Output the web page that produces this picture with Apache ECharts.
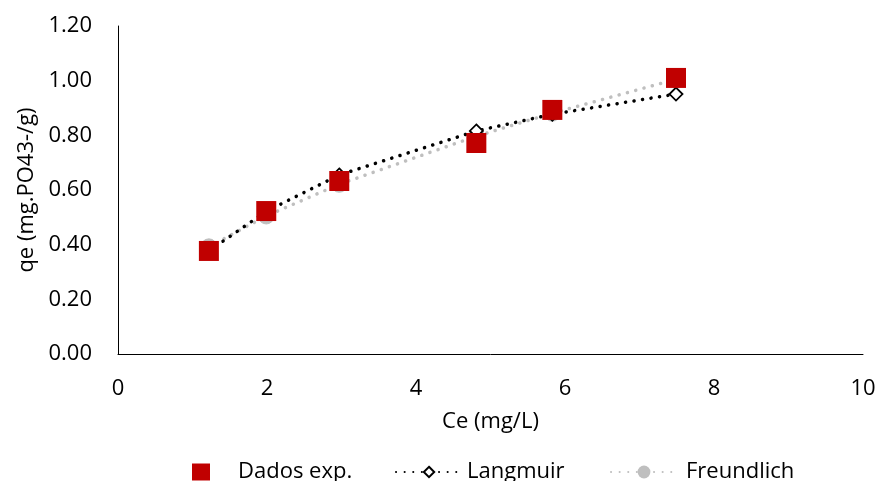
<!DOCTYPE html>
<html>
<head>
<meta charset="utf-8">
<script src="https://cdn.jsdelivr.net/npm/echarts@6/dist/echarts.min.js"></script>
<style>
  html, body { margin: 0; padding: 0; background: #fff; }
  #chart { width: 881px; height: 481px; }
</style>
</head>
<body>
<div id="chart"></div>
<script>
// Equilibrium concentration Ce (mg/L)
const ce = [1.22, 1.99, 2.97, 4.81, 5.83, 7.49];
// Experimental adsorption capacity qe
const qeExp = [0.377, 0.523, 0.633, 0.772, 0.893, 1.010];
// Langmuir model values
const qeLangmuir = [0.377, 0.522, 0.655, 0.816, 0.877, 0.951];
// Freundlich model values
const qeFreundlich = [0.392, 0.505, 0.621, 0.797, 0.881, 1.005];

const pairs = (xs, ys) => xs.map((x, i) => [x, ys[i]]);

const font = 'Open Sans';
const fs = 22;
const txt = { fontFamily: font, fontSize: fs, color: '#000' };
const legendBase = { orient: 'horizontal', top: 456, textStyle: txt };

const chart = echarts.init(document.getElementById('chart'));
chart.setOption({
  animation: false,
  backgroundColor: '#ffffff',
  textStyle: { fontFamily: font, color: '#000' },
  grid: { left: 118, right: 18, top: 26, bottom: 127, containLabel: false },
  xAxis: {
    type: 'value', min: 0, max: 10, interval: 2,
    name: 'Ce (mg/L)', nameLocation: 'middle', nameGap: 57,
    nameTextStyle: txt,
    axisLine: { lineStyle: { color: '#000', width: 1 } },
    axisTick: { show: false },
    axisLabel: Object.assign({ margin: 24 }, txt),
    splitLine: { show: false }
  },
  yAxis: {
    type: 'value', min: 0, max: 1.2, interval: 0.2,
    name: 'qe (mg.PO43-/g)', nameLocation: 'middle', nameGap: 74, nameRotate: 90,
    nameTextStyle: txt,
    axisLine: { show: true, lineStyle: { color: '#000', width: 1 } },
    axisTick: { show: false },
    axisLabel: Object.assign({ margin: 26, formatter: v => v.toFixed(2) }, txt),
    splitLine: { show: false }
  },
  legend: [
    Object.assign({}, legendBase, {
      left: 187, itemWidth: 18, itemHeight: 17,
      data: ['Dados exp.'],
      textStyle: Object.assign({ padding: [0, 0, 0, 23] }, txt)
    }),
    Object.assign({}, legendBase, {
      left: 390, itemWidth: 66, itemHeight: 13,
      data: ['Langmuir'],
      textStyle: Object.assign({ padding: [0, 0, 0, 0] }, txt)
    }),
    Object.assign({}, legendBase, {
      left: 605, itemWidth: 66, itemHeight: 16,
      data: ['Freundlich'],
      textStyle: Object.assign({ padding: [0, 0, 0, 4] }, txt)
    })
  ],
  series: [
    {
      name: 'Dados exp.', type: 'scatter', z: 5,
      data: pairs(ce, qeExp),
      symbol: 'rect', symbolSize: 20,
      itemStyle: { color: '#C00000', opacity: 1 }
    },
    {
      name: 'Langmuir', type: 'line', z: 4,
      data: pairs(ce, qeLangmuir),
      symbol: 'diamond', symbolSize: 13, showAllSymbol: true,
      itemStyle: { color: '#fff', borderColor: '#000', borderWidth: 1.8 },
      lineStyle: { color: '#000', width: 3.5, type: [0.1, 8.5], cap: 'round' }
    },
    {
      name: 'Freundlich', type: 'line', z: 3,
      data: pairs(ce, qeFreundlich),
      symbol: 'circle', symbolSize: 16, showAllSymbol: true,
      itemStyle: { color: '#BFBFBF', borderColor: '#BFBFBF' },
      lineStyle: { color: '#BFBFBF', width: 3.5, type: [0.1, 8.5], cap: 'round' }
    }
  ]
});
</script>
</body>
</html>
